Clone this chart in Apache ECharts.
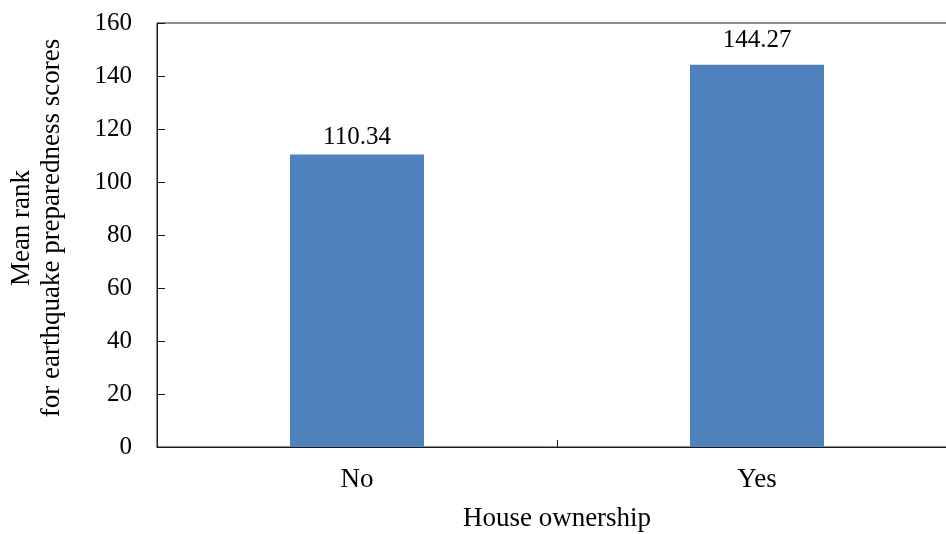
<!DOCTYPE html>
<html>
<head>
<meta charset="utf-8">
<script src="https://cdn.jsdelivr.net/npm/echarts@6/dist/echarts.min.js"></script>
<style>
  html, body { margin: 0; padding: 0; background: #fff; }
  #chart { width: 946px; height: 534px; }
</style>
</head>
<body>
<div id="chart"></div>
<script>
var categories = ['No', 'Yes'];
var mean_rank = [110.34, 144.27];
var y_ticks = [0, 20, 40, 60, 80, 100, 120, 140, 160];

var font = "'Liberation Serif', 'Times New Roman', serif";
var axis_color = '#1a1a1a';
var bar_color = '#4f81bd';

var chart = echarts.init(document.getElementById('chart'));

var option = {
    animation: false,
    grid: {
        left: 157,
        right: -11,
        top: 23,
        bottom: 87,
        show: true,
        borderColor: axis_color,
        borderWidth: 1,
        outerBoundsMode: 'none'
    },
    xAxis: {
        type: 'category',
        data: categories,
        name: 'House ownership',
        nameLocation: 'middle',
        nameGap: 58,
        nameTextStyle: { fontFamily: font, fontSize: 27, color: '#000' },
        axisLine: { show: true, lineStyle: { color: axis_color, width: 1 } },
        axisTick: { show: true, inside: true, length: 7, interval: 0, lineStyle: { color: axis_color } },
        axisLabel: { fontFamily: font, fontSize: 27, color: '#000', margin: 19 }
    },
    yAxis: {
        type: 'value',
        min: y_ticks[0],
        max: y_ticks[y_ticks.length - 1],
        interval: 20,
        name: 'Mean rank\nfor earthquake preparedness scores',
        nameLocation: 'middle',
        nameRotate: 90,
        nameGap: 90,
        nameTextStyle: {
            fontFamily: font, fontSize: 27, color: '#000', lineHeight: 30, align: 'center',
            padding: [0, 0, 0, 14]
        },
        axisLine: { show: true, lineStyle: { color: axis_color, width: 1 } },
        axisTick: { show: true, inside: true, length: 8, lineStyle: { color: axis_color } },
        splitLine: { show: false },
        axisLabel: { fontFamily: font, fontSize: 25, color: '#000', margin: 25 }
    },
    series: [
        {
            type: 'bar',
            barWidth: '33.5%',
            itemStyle: { color: bar_color },
            label: {
                show: true,
                position: 'top',
                fontFamily: font,
                fontSize: 25,
                color: '#000',
                formatter: function (p) { return p.value.toFixed(2); }
            },
            data: mean_rank.map(function (v, i) {
                return { value: v, label: { distance: i === 0 ? 5 : 12 } };
            })
        }
    ]
};

chart.setOption(option);
</script>
</body>
</html>
